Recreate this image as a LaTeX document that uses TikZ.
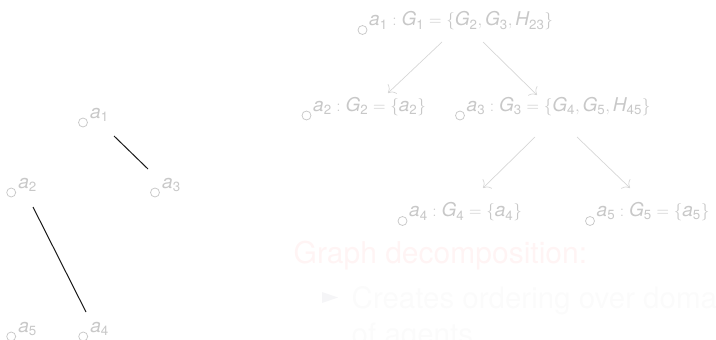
\documentclass[tikz,border=0pt]{standalone}
\usepackage{amsmath}
\usepackage{fontspec}
\setmainfont{TeX Gyre Heros}
\usepackage{tikz}
\usetikzlibrary{arrows.meta}
\definecolor{labelgray}{RGB}{200,200,200}
\definecolor{arrowgray}{RGB}{214,214,214}
\definecolor{headred}{RGB}{255,244,244}
\definecolor{itemgray}{RGB}{251,251,251}
\definecolor{bulletgray}{RGB}{245,245,247}
\newcommand{\vx}[2]{\text{\itshape #1}_{\text{#2}}}

\begin{document}
\begin{tikzpicture}[
    x=1pt, y=-1pt,
    dot/.style={circle, draw=labelgray, line width=0.75pt, inner sep=0pt,
                minimum size=9pt},
    lbl/.style={anchor=base west, inner sep=0pt, text=labelgray,
                font=\fontsize{19}{23}\selectfont},
    edge/.style={line width=1pt, black!90},
    arr/.style={-{To[scale=2]}, line width=0.7pt, arrowgray},
    heading/.style={anchor=base west, inner sep=0pt, text=headred,
                    font=\fontsize{30}{36}\selectfont},
    item/.style={anchor=base west, inner sep=0pt, text=itemgray,
                 font=\fontsize{29.5}{35}\selectfont}
]
\useasboundingbox (0,0) rectangle (716,340);
\clip (0,0) rectangle (716,340);

% graph
\node[dot] (a1) at (83,122.5)   {};
\node[dot] (a2) at (11.2,192.5) {};
\node[dot] (a3) at (155,192.5)  {};
\node[dot] (a5) at (11.2,336.5) {};
\node[dot] (a4) at (83.2,336.5) {};
\node[lbl] (a1l) at ([shift={(7,-4.3)}]a1.center) {$\vx{a}{1}$};
\node[lbl] (a2l) at ([shift={(7,-4.3)}]a2.center) {$\vx{a}{2}$};
\node[lbl] (a3l) at ([shift={(7,-4.3)}]a3.center) {$\vx{a}{3}$};
\node[lbl] (a5l) at ([shift={(7,-4.3)}]a5.center) {$\vx{a}{5}$};
\node[lbl] (a4l) at ([shift={(7,-4.3)}]a4.center) {$\vx{a}{4}$};

\draw[edge] ([shift={(31,13.5)}]a1.center)   -- ([shift={(-7,-23.5)}]a3.center);
\draw[edge] ([shift={(21.8,14.5)}]a2.center) -- ([shift={(2.8,-24.5)}]a4.center);

% decomposition tree
\node[dot] (g1) at (362.5,30)    {};
\node[dot] (g2) at (306.5,115.5) {};
\node[dot] (g3) at (460,115.5)   {};
\node[dot] (g4) at (402.5,221)   {};
\node[dot] (g5) at (590,221)     {};
\node[lbl] (g1l) at ([shift={(6.5,-4.3)}]g1.center) {$\vx{a}{1}:\vx{G}{1}=\{\vx{G}{2},\vx{G}{3},\vx{H}{23}\}$};
\node[lbl] (g2l) at ([shift={(6.5,-4.3)}]g2.center) {$\vx{a}{2}:\vx{G}{2}=\{\vx{a}{2}\}$};
\node[lbl] (g3l) at ([shift={(6.5,-4.3)}]g3.center) {$\vx{a}{3}:\vx{G}{3}=\{\vx{G}{4},\vx{G}{5},\vx{H}{45}\}$};
\node[lbl] (g4l) at ([shift={(6.5,-4.3)}]g4.center) {$\vx{a}{4}:\vx{G}{4}=\{\vx{a}{4}\}$};
\node[lbl] (g5l) at ([shift={(6.5,-4.3)}]g5.center) {$\vx{a}{5}:\vx{G}{5}=\{\vx{a}{5}\}$};

% Arrows
\draw[arr] ([shift={(79.5,12)}]g1.center)  -- ([shift={(81.5,-22.5)}]g2.center);
\draw[arr] ([shift={(120.5,12)}]g1.center) -- ([shift={(77,-20.5)}]g3.center);
\draw[arr] ([shift={(75,21.5)}]g3.center)  -- ([shift={(80.5,-33)}]g4.center);
\draw[arr] ([shift={(117,21.5)}]g3.center) -- ([shift={(40,-33)}]g5.center);

% text
\node[heading] (title) at (293.5,263) {Graph decomposition:};
\fill[bulletgray] (322,292) -- (338,297.5) -- (322,303) -- cycle;
\node[item] (point) at (351.5,308) {Creates ordering over domains};
\node[item] (pointb) at (351.5,344) {of agents};

\end{tikzpicture}
\end{document}
